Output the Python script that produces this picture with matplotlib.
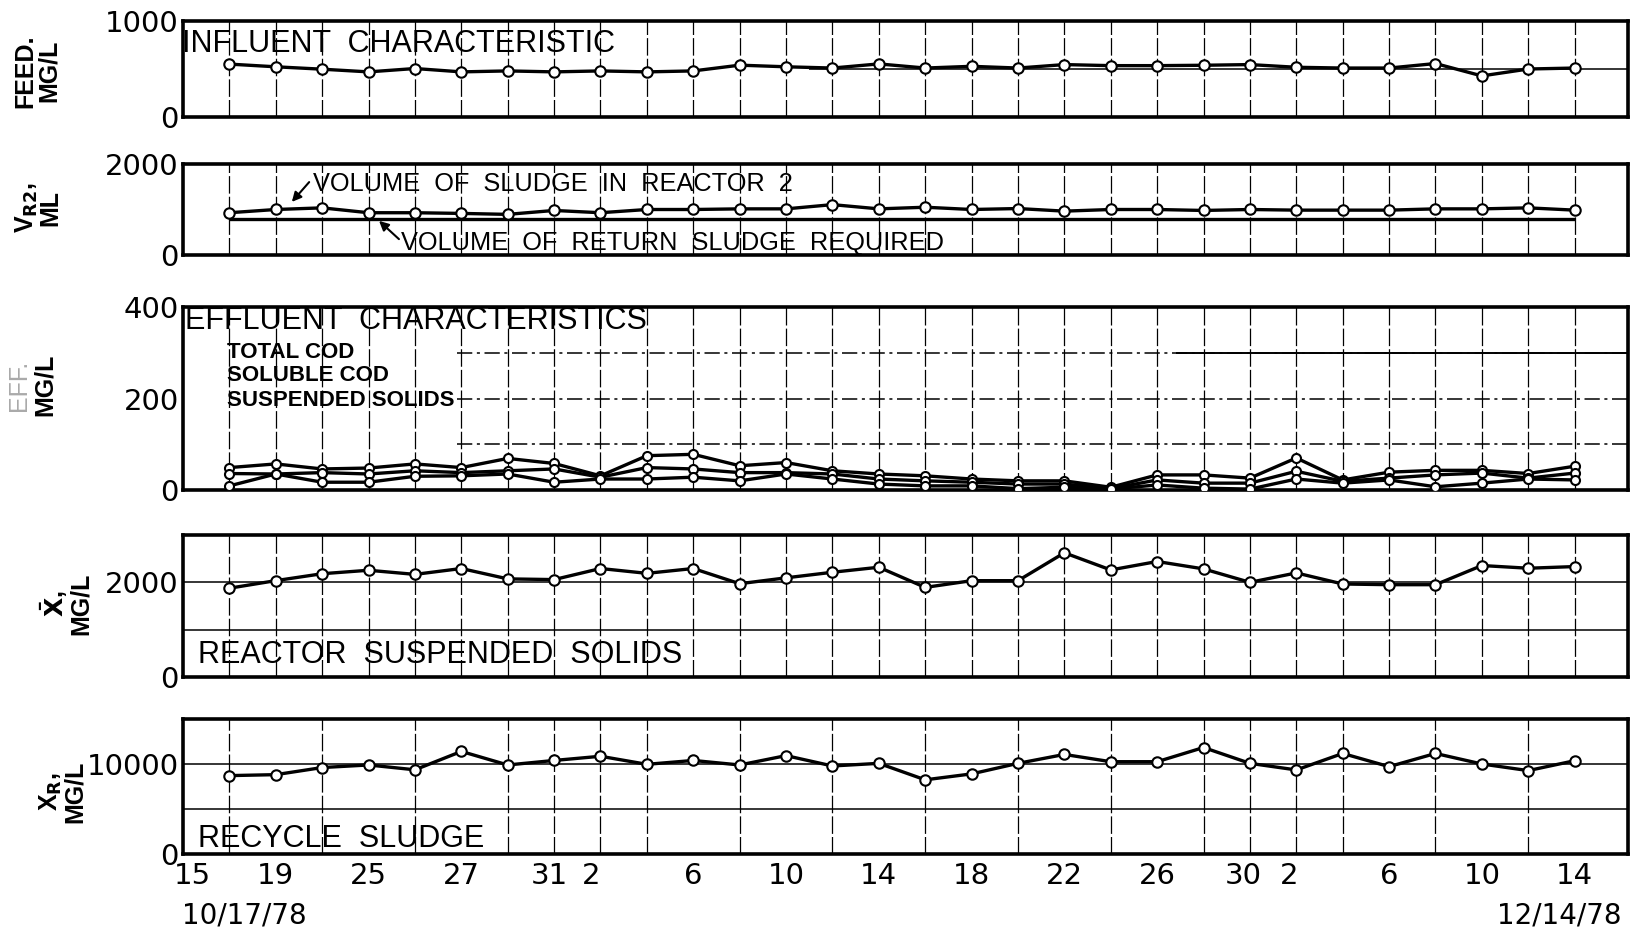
import matplotlib
matplotlib.use("Agg")
import matplotlib.pyplot as plt

# ---------------- data ----------------
days = list(range(30))
tick_pos = [-0.8, 1, 3, 5, 6.9, 7.8, 10, 12, 14, 16, 18, 20, 21.85, 22.85, 25, 27, 29]
tick_labels = ["15", "19", "25", "27", "31", "2", "6", "10", "14", "18", "22", "26",
               "30", "2", "6", "10", "14"]
start_date = "10/17/78"
end_date = "12/14/78"

feed = [551, 523, 498, 470, 505, 470, 480, 470, 480, 470, 480, 540, 523, 510, 553,
        510, 528, 510, 546, 535, 535, 539, 546, 518, 510, 510, 557, 428, 500, 510]
vr2 = [929, 1000, 1036, 929, 929, 914, 893, 979, 929, 1000, 1000, 1014, 1014, 1107, 1014,
       1050, 1000, 1021, 964, 1000, 1000, 979, 1000, 986, 986, 986, 1014, 1014, 1036, 986]
return_required = 790

total_cod = [49, 57, 46, 48, 57, 49, 69, 58, 31, 75, 78, 53, 60, 42, 35,
             31, 24, 20, 20, 6, 33, 33, 26, 70, 22, 39, 43, 43, 36, 52]
soluble_cod = [36, 35, 38, 35, 42, 38, 42, 46, 28, 49, 46, 38, 38, 35, 24,
               20, 17, 13, 13, 3, 22, 15, 15, 41, 19, 26, 33, 37, 26, 37]
susp_solids = [9, 35, 17, 17, 30, 31, 35, 17, 24, 24, 28, 20, 35, 24, 13,
               9, 9, 3, 6, 2, 11, 4, 2, 24, 15, 22, 7, 15, 24, 22]

xbar = [1876, 2036, 2182, 2255, 2168, 2292, 2073, 2058, 2292, 2190, 2292, 1971, 2095, 2213, 2319,
        1893, 2035, 2035, 2624, 2262, 2440, 2284, 2000, 2199, 1965, 1950, 1950, 2355, 2298, 2333]
xr = [8710, 8817, 9606, 9892, 9355, 11398, 9892, 10394, 10860, 9964, 10394, 9892, 10932, 9780, 10073,
      8242, 8901, 10073, 11062, 10256, 10256, 11832, 10073, 9341, 11172, 9707, 11172, 10000, 9267, 10366]

# ---------------- figure ----------------
plt.rcParams['font.family'] = ['DejaVu Sans']
FW, FH = 1634, 932
fig = plt.figure(figsize=(FW / 100, FH / 100), dpi=100)

LEFT, RIGHT = 183, 1628
XMIN, XMAX = -1, 30.15


def make_ax(top, bottom):
    return fig.add_axes([LEFT / FW, 1 - bottom / FH, (RIGHT - LEFT) / FW, (bottom - top) / FH])


TITLE_FONT = ['Liberation Sans', 'DejaVu Sans']
LBL = dict(family=TITLE_FONT, fontsize=18, fontweight='bold', rotation=90, ha='center', va='center',
           linespacing=0.95, multialignment='center')
line_kw = dict(color='black', lw=2.4, marker='o', ms=7.5, mfc='white', mec='black', mew=1.5,
               zorder=5)
DASHDOT = (0, (10, 3, 2, 3))


def style(ax, ylim, yticks, ylabels):
    ax.set_xlim(XMIN, XMAX)
    ax.set_ylim(*ylim)
    ax.set_yticks(yticks)
    ax.set_yticklabels(ylabels)
    ax.tick_params(axis='y', length=0, pad=3, labelsize=21)
    ax.set_xticks(days, minor=True)
    ax.set_xticks([])
    ax.tick_params(axis='x', which='both', length=0)
    ax.grid(which='minor', axis='x', color='black', lw=0.9, ls=(0, (14, 2.5)))
    for s in ax.spines.values():
        s.set_linewidth(2.6)


def fig_text(x, y, s, **kw):
    fig.text(x / FW, 1 - y / FH, s, **kw)


# Panel 1 - feed
ax1 = make_ax(21, 117)
style(ax1, (0, 1000), [0, 1000], ["0", "1000"])
ax1.hlines(500, 12.5, XMAX, color='black', lw=1.1, zorder=1)
ax1.plot(days, feed, **line_kw)
fig_text(182, 44, "INFLUENT  CHARACTERISTIC", family=TITLE_FONT, fontsize=22, va='center')
fig_text(37, 71, "FEED.\nMG/L", **LBL)

# Panel 2 - volume of sludge
ax2 = make_ax(164, 255)
style(ax2, (0, 2000), [0, 2000], ["0", "2000"])
ax2.plot(days, vr2, **line_kw)
ax2.hlines(return_required, days[0], days[-1], color='black', lw=2.4, zorder=4)
fig_text(313, 184, "VOLUME  OF  SLUDGE  IN  REACTOR  2", family=TITLE_FONT, fontsize=18.3, va='center')
fig_text(401, 243, "VOLUME  OF  RETURN  SLUDGE  REQUIRED", family=TITLE_FONT, fontsize=18.3, va='center')
ax2.annotate("", xy=(290, FH - 204), xycoords='figure pixels',
             xytext=(311, FH - 180), textcoords='figure pixels',
             arrowprops=dict(arrowstyle='-|>', lw=1.5, color='black', mutation_scale=14))
ax2.annotate("", xy=(377, FH - 219), xycoords='figure pixels',
             xytext=(401, FH - 241), textcoords='figure pixels',
             arrowprops=dict(arrowstyle='-|>', lw=1.5, color='black', mutation_scale=14))
fig_text(38, 208, "V$_{\\mathbf{R2}}$,\nML", **LBL)

# Panel 3 - effluent
ax3 = make_ax(307, 490)
style(ax3, (0, 400), [0, 200, 400], ["0", "200", "400"])
for h in [100, 200, 300]:
    ax3.hlines(h, 4.9, XMAX, color='black', lw=1.1, ls=DASHDOT, zorder=1)
ax3.hlines(300, 20.4, XMAX, color='black', lw=1.4, zorder=1)
kw3 = dict(line_kw, ms=6.5)
ax3.plot(days, total_cod, **kw3)
ax3.plot(days, soluble_cod, **kw3)
ax3.plot(days, susp_solids, **kw3)
fig_text(185, 321, "EFFLUENT  CHARACTERISTICS", family=TITLE_FONT, fontsize=22, va='center')
for yy, s in zip([352, 376, 400], ["TOTAL COD", "SOLUBLE COD", "SUSPENDED SOLIDS"]):
    fig_text(227, yy, s, family=TITLE_FONT, fontsize=16, fontweight='bold', va='center')
fig_text(19, 385, "EFF.", family=TITLE_FONT, fontsize=18, color='#aaaaaa', rotation=90,
         ha='center', va='center')
fig_text(45, 385, "MG/L", **LBL)

# Panel 4 - reactor suspended solids
ax4 = make_ax(535, 677)
style(ax4, (0, 3000), [0, 2000], ["0", "2000"])
for h in [1000, 2000]:
    ax4.axhline(h, color='black', lw=1.1, zorder=1)
ax4.plot(days, xbar, **line_kw)
fig_text(198, 655, "REACTOR  SUSPENDED  SOLIDS", family=TITLE_FONT, fontsize=22, va='center')
fig_text(66, 604, "$\\mathbf{\\bar{X}}$,\nMG/L", **LBL)

# Panel 5 - recycle sludge
ax5 = make_ax(719, 854)
style(ax5, (0, 15000), [0, 10000], ["0", "10000"])
for h in [5000, 10000]:
    ax5.axhline(h, color='black', lw=1.1, zorder=1)
ax5.plot(days, xr, **line_kw)
ax5.set_xticks(tick_pos)
ax5.set_xticklabels(tick_labels)
ax5.tick_params(axis='x', which='major', length=0, pad=6, labelsize=21)
fig_text(198, 839, "RECYCLE  SLUDGE", family=TITLE_FONT, fontsize=22, va='center')
fig_text(62, 792, "X$_{\\mathbf{R}}$,\nMG/L", **LBL)

fig_text(182, 915, start_date, fontsize=20, ha='left', va='center')
fig_text(1622, 915, end_date, fontsize=20, ha='right', va='center')

fig.savefig("out.png", dpi=100, facecolor='white')
